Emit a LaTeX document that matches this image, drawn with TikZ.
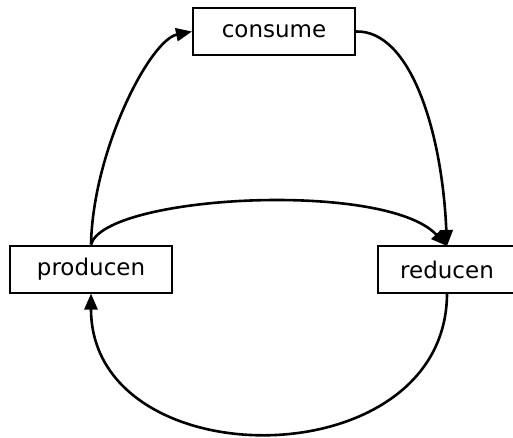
\documentclass[tikz,border=0pt]{standalone}
\usepackage{fontspec}
\setmainfont{DejaVu Sans}
\usetikzlibrary{arrows.meta}
\begin{document}
\begin{tikzpicture}[x=1pt,y=-1pt,
  stagebox/.style={draw, line width=2pt, inner sep=0pt, minimum height=47pt,
    font=\fontsize{23}{28}\selectfont},
  flow/.style={line width=2.6pt, -{Triangle[length=16pt,width=13pt]}}]
  \useasboundingbox (0,0) rectangle (513,437);
  % stages
  \node[stagebox, minimum width=162pt] (consume) at (274,31.5) {consume\hspace{23pt}};
  \node[stagebox, minimum width=162pt] (producen) at (91,269) {producen\hspace{20pt}};
  \node[stagebox, minimum width=138pt] (reducen) at (447,269.5) {reducen\hspace{6pt}};
  \coordinate (rtop) at (447,246);
  \coordinate (rbot) at (447,293);
  % flows
  \draw[flow] (producen.north) .. controls (93,150) and (150,40) .. (consume.west);
  \draw[flow] (consume.east) .. controls (410,30) and (442,130) .. (rtop);
  \draw[flow] (producen.north) .. controls (105,195) and (385,180) .. (rtop);
  \draw[flow] (rbot) .. controls (447,480) and (91,480) .. (producen.south);
\end{tikzpicture}
\end{document}
